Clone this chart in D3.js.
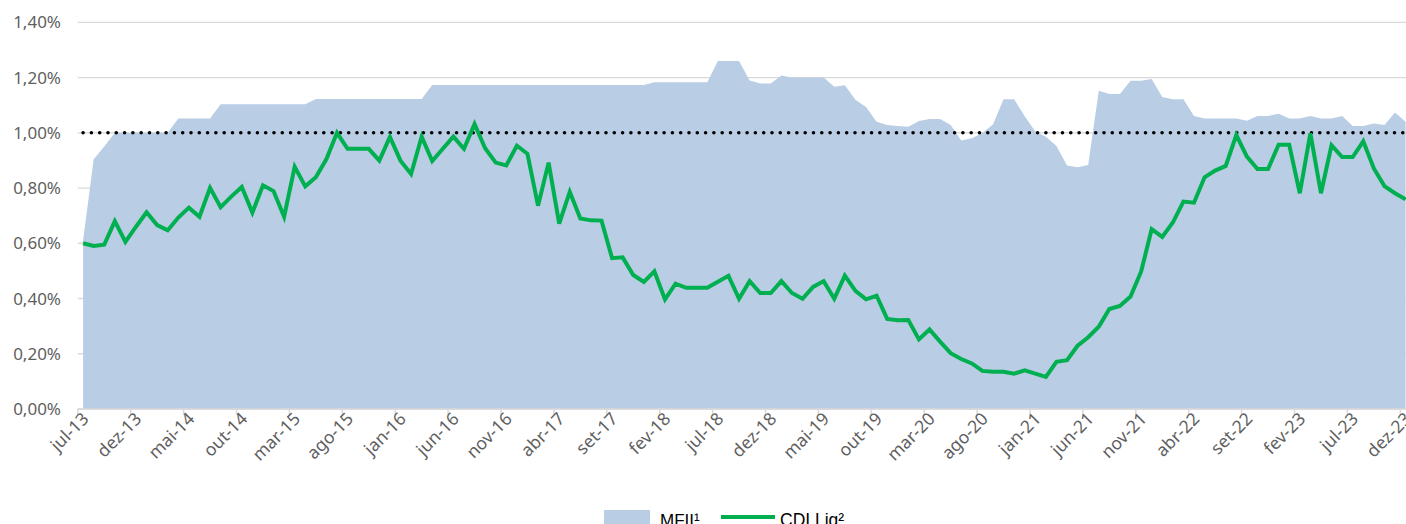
<!DOCTYPE html>
<html>
<head>
<meta charset="utf-8">
<script src="https://cdn.jsdelivr.net/npm/d3@7"></script>
<style>
  html, body { margin: 0; padding: 0; background: #fff; }
  svg { display: block; }
</style>
</head>
<body>
<svg id="chart" width="1406" height="524"></svg>
<script>
// ---- Data ----
const monthNames = ["jan","fev","mar","abr","mai","jun","jul","ago","set","out","nov","dez"];
const startYear = 2013, startMonth = 6; // jul-13
const nMonths = 126;                     // jul-13 .. dez-23
const categories = [];
for (let k = 0; k < nMonths; k++) {
  const m = (startMonth + k) % 12;
  const y = startYear + Math.floor((startMonth + k) / 12);
  categories.push(monthNames[m] + "-" + String(y).slice(2));
}

const mfii = [
  0.61, 0.904, 0.95, 1.00, 1.00, 1.00, 1.00, 1.00, 1.00, 1.052,
  1.052, 1.052, 1.052, 1.103, 1.103, 1.103, 1.103, 1.103, 1.103, 1.103,
  1.103, 1.103, 1.122, 1.122, 1.122, 1.122, 1.122, 1.122, 1.122, 1.122,
  1.122, 1.122, 1.122, 1.173, 1.173, 1.173, 1.173, 1.173, 1.173, 1.173,
  1.173, 1.173, 1.173, 1.173, 1.173, 1.173, 1.173, 1.173, 1.173, 1.173,
  1.173, 1.173, 1.173, 1.173, 1.183, 1.183, 1.183, 1.183, 1.183, 1.183,
  1.26, 1.26, 1.26, 1.189, 1.178, 1.178, 1.207, 1.20, 1.20, 1.20,
  1.20, 1.167, 1.172, 1.12, 1.093, 1.04, 1.028, 1.025, 1.022, 1.043,
  1.05, 1.05, 1.028, 0.972, 0.98, 0.999, 1.03, 1.121, 1.121, 1.06,
  1.005, 0.986, 0.952, 0.882, 0.875, 0.883, 1.152, 1.14, 1.14, 1.188,
  1.188, 1.195, 1.13, 1.121, 1.121, 1.061, 1.052, 1.052, 1.052, 1.052,
  1.044, 1.061, 1.061, 1.069, 1.052, 1.052, 1.061, 1.052, 1.052, 1.061,
  1.025, 1.025, 1.034, 1.028, 1.073, 1.04
];

const cdiLiq = [
  0.60, 0.59, 0.595, 0.68, 0.605, 0.66, 0.712, 0.666, 0.647, 0.693,
  0.729, 0.696, 0.801, 0.731, 0.769, 0.804, 0.711, 0.81, 0.789, 0.696,
  0.877, 0.806, 0.839, 0.905, 1.00, 0.942, 0.942, 0.942, 0.899, 0.985,
  0.899, 0.851, 0.986, 0.898, 0.942, 0.986, 0.942, 1.032, 0.944, 0.892,
  0.882, 0.953, 0.924, 0.736, 0.892, 0.671, 0.786, 0.69, 0.683, 0.682,
  0.546, 0.549, 0.485, 0.46, 0.498, 0.397, 0.454, 0.439, 0.439, 0.439,
  0.461, 0.482, 0.399, 0.463, 0.42, 0.42, 0.463, 0.42, 0.399, 0.442,
  0.463, 0.399, 0.483, 0.428, 0.397, 0.41, 0.326, 0.321, 0.322, 0.252,
  0.288, 0.244, 0.202, 0.181, 0.165, 0.138, 0.135, 0.135, 0.128, 0.14,
  0.128, 0.116, 0.171, 0.177, 0.229, 0.26, 0.298, 0.362, 0.373, 0.407,
  0.497, 0.651, 0.623, 0.675, 0.751, 0.747, 0.839, 0.863, 0.88, 0.992,
  0.914, 0.869, 0.869, 0.957, 0.957, 0.781, 0.998, 0.781, 0.955, 0.912,
  0.912, 0.969, 0.871, 0.807, 0.781, 0.759
];

const yTicks = [0, 0.2, 0.4, 0.6, 0.8, 1.0, 1.2, 1.4];
const referenceLevel = 1.0;
const labelStep = 5;
const seriesNames = ["MFII\u00B9", "CDI Liq\u00B2"];

// ---- Drawing ----
const svg = d3.select("#chart");
const W = 1406, H = 524;
const catW = 10.58, left = 77.8;
const x = d3.scaleLinear().domain([-0.5, nMonths - 0.5]).range([left, left + nMonths * catW]);
const y = d3.scaleLinear().domain([0, 1.4]).range([409, 22.3]);

const axisFont = "'Noto Sans', sans-serif";
const axisColor = "#5f5f5f";
const gridColor = "#d9d9d9";

// gridlines
svg.append("g").selectAll("line").data(yTicks).join("line")
  .attr("x1", left).attr("x2", W)
  .attr("y1", d => y(d)).attr("y2", d => y(d))
  .attr("stroke", gridColor).attr("stroke-width", 1.3);

// area
const area = d3.area().x((d, i) => x(i)).y0(y(0)).y1(d => y(d));
svg.append("path").datum(mfii).attr("d", area).attr("fill", "#b9cde5");

// x axis line + ticks
svg.append("line").attr("x1", left).attr("x2", W).attr("y1", y(0)).attr("y2", y(0))
  .attr("stroke", gridColor).attr("stroke-width", 1.5);
const tickIdx = d3.range(0, nMonths, labelStep);
svg.append("g").selectAll("line").data(tickIdx).join("line")
  .attr("x1", d => x(d - 0.5)).attr("x2", d => x(d - 0.5))
  .attr("y1", y(0)).attr("y2", y(0) + 6)
  .attr("stroke", gridColor).attr("stroke-width", 1.5);

// y labels
svg.append("g").selectAll("text").data(yTicks).join("text")
  .attr("x", 61).attr("y", d => y(d) + 6)
  .attr("text-anchor", "end")
  .attr("font-family", axisFont).attr("font-size", 17).attr("fill", axisColor)
  .text(d => d3.format(".2f")(d).replace(".", ",") + "%");

// x labels
svg.append("g").selectAll("text").data(tickIdx).join("text")
  .attr("transform", d => `translate(${x(d - 0.5) + 12},${y(0) + 11}) rotate(-45)`)
  .attr("text-anchor", "end")
  .attr("font-family", axisFont).attr("font-size", 17.5).attr("fill", axisColor)
  .text(d => categories[d]);

// reference dotted line
svg.append("line")
  .attr("x1", x(0)).attr("x2", W)
  .attr("y1", y(referenceLevel)).attr("y2", y(referenceLevel))
  .attr("stroke", "#000").attr("stroke-width", 3.6)
  .attr("stroke-linecap", "round").attr("stroke-dasharray", "0 8.3");

// green line
const line = d3.line().x((d, i) => x(i)).y(d => y(d));
svg.append("path").datum(cdiLiq).attr("d", line)
  .attr("fill", "none").attr("stroke", "#00b050").attr("stroke-width", 4)
  .attr("stroke-linejoin", "miter");

// legend
const lg = svg.append("g");
lg.append("rect").attr("x", 604).attr("y", 510).attr("width", 46).attr("height", 14).attr("fill", "#b9cde5");
lg.append("text").attr("x", 660).attr("y", 526)
  .attr("font-family", "'Liberation Sans', Arial, sans-serif").attr("font-size", 17).attr("fill", "#000")
  .text(seriesNames[0]);
lg.append("line").attr("x1", 721).attr("x2", 775).attr("y1", 517).attr("y2", 517)
  .attr("stroke", "#00b050").attr("stroke-width", 4);
lg.append("text").attr("x", 780).attr("y", 526)
  .attr("font-family", "'Liberation Sans', Arial, sans-serif").attr("font-size", 17.5).attr("fill", "#000")
  .text(seriesNames[1]);
</script>
</body>
</html>
